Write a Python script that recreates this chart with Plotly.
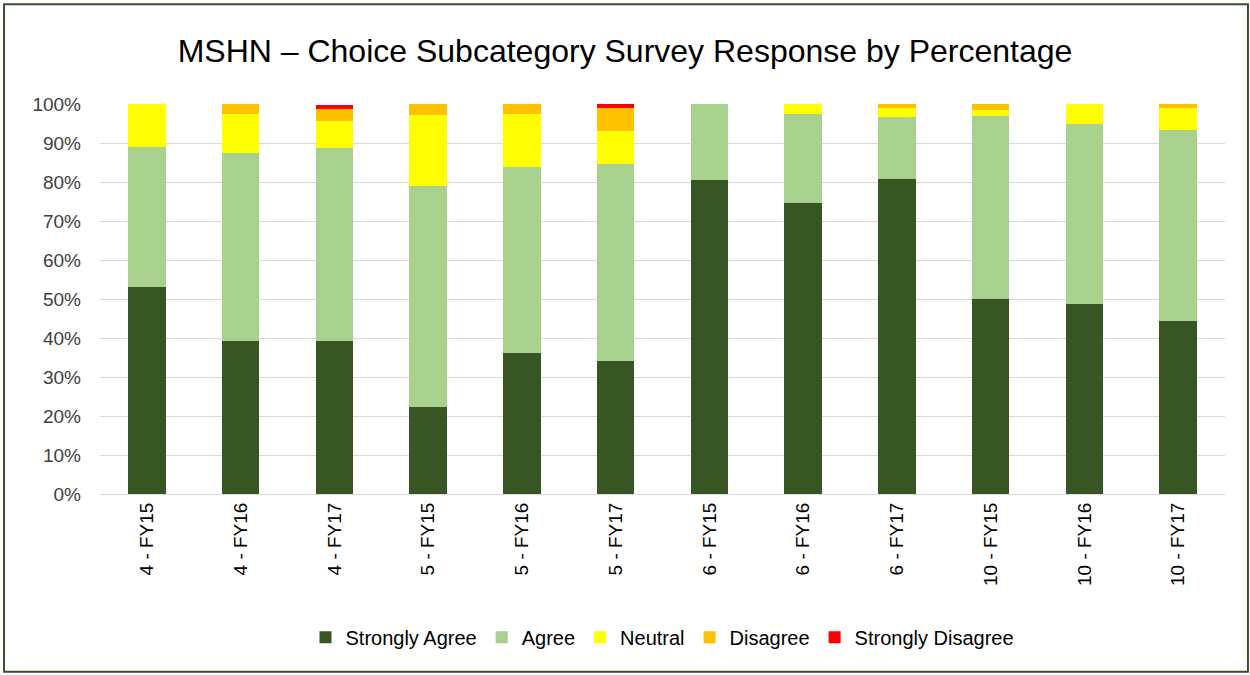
import plotly.graph_objects as go

categories = ["4 - FY15", "4 - FY16", "4 - FY17", "5 - FY15", "5 - FY16", "5 - FY17",
              "6 - FY15", "6 - FY16", "6 - FY17", "10 - FY15", "10 - FY16", "10 - FY17"]
strongly_agree = [53.1, 39.2, 39.2, 22.3, 36.2, 34.1, 80.5, 74.6, 80.8, 50.0, 48.7, 44.4]
agree = [35.9, 48.2, 49.5, 56.7, 47.6, 50.5, 19.5, 22.8, 15.9, 47.0, 46.2, 49.0]
neutral = [11.0, 10.0, 6.9, 18.2, 13.6, 8.5, 0.0, 2.6, 2.3, 1.5, 5.1, 5.6]
disagree = [0.0, 2.6, 3.1, 2.8, 2.6, 5.8, 0.0, 0.0, 1.0, 1.5, 0.0, 1.0]
strongly_disagree = [0.0, 0.0, 1.1, 0.0, 0.0, 1.1, 0.0, 0.0, 0.0, 0.0, 0.0, 0.0]

series = [
    ("Strongly Agree", strongly_agree, "#375623"),
    ("Agree", agree, "#a9d18e"),
    ("Neutral", neutral, "#ffff00"),
    ("Disagree", disagree, "#ffc000"),
    ("Strongly Disagree", strongly_disagree, "#ff0000"),
]

fig = go.Figure()
for name, vals, color in series:
    fig.add_trace(go.Bar(x=categories, y=vals, name=name, marker_color=color,
                         marker_line_width=0))

font_family = "Liberation Sans Narrow, Liberation Sans, Arial"

fig.update_layout(
    barmode="stack",
    bargap=0.6,
    width=1250, height=675,
    margin=dict(l=100, r=25, t=104, b=181),
    paper_bgcolor="white", plot_bgcolor="white",
    title=dict(text="MSHN – Choice Subcategory Survey Response by Percentage",
               x=0.5, xanchor="center", y=0.925, yanchor="middle",
               font=dict(family=font_family, size=32, color="#000000")),
    font=dict(family=font_family, color="#404040"),
    xaxis=dict(tickangle=-90, tickfont=dict(size=19, color="#000000"),
               showline=True, linecolor="#d9d9d9", linewidth=1, ticks=""),
    yaxis=dict(range=[0, 100], dtick=10, ticksuffix="%",
               tickfont=dict(size=19, color="#404040"), ticklabelstandoff=18,
               showgrid=True, gridcolor="#d9d9d9", gridwidth=1, zeroline=False),
    legend=dict(orientation="h", x=0.5, xanchor="center", y=-0.367, yanchor="middle",
                font=dict(size=20, color="#000000"), traceorder="normal",
                itemwidth=30),
    shapes=[dict(type="rect", xref="paper", yref="paper",
                 x0=-0.0853, x1=1.0204, y0=-0.456, y1=1.256,
                 line=dict(color="#3b4f2b", width=2), fillcolor="rgba(0,0,0,0)",
                 layer="below")],
)

fig.write_html("out.html", config={"displayModeBar": False},
               post_script="document.body.style.margin='0';")
